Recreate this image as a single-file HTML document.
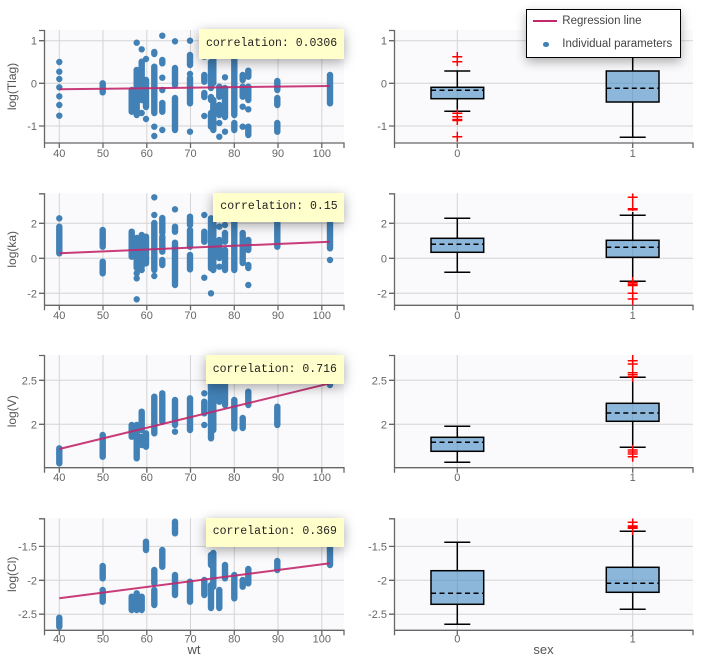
<!DOCTYPE html>
<html><head><meta charset="utf-8">
<style>
body{margin:0;width:708px;height:660px;overflow:hidden;background:#fff;position:relative;font-family:"Liberation Sans",sans-serif}
svg{position:absolute;left:0;top:0}
.t{font-family:"Liberation Sans",sans-serif;font-size:11px;fill:#666}
.ti{font-family:"Liberation Sans",sans-serif;font-size:12px;fill:#555}
.xt{font-family:"Liberation Sans",sans-serif;font-size:13px;fill:#555}
.bg{fill:#fafafc}
.g{stroke:#d4d4d4;stroke-width:1;fill:none}
.ax{stroke:#666;stroke-width:1.3;fill:none}
.dots{stroke:#4281b6;stroke-width:6.4;stroke-linecap:round;fill:none}
.reg{stroke:#c3286b;stroke-width:2;opacity:.9}
.bx{fill:rgba(66,139,195,.6);stroke:#000;stroke-width:1.5}
.wk{stroke:#000;stroke-width:1.5;fill:none}
.md{stroke:#000;stroke-width:1.5;stroke-dasharray:5 3.5}
.o{stroke:#f00;stroke-width:1.5;fill:none}
.corr{position:absolute;background:#ffffcc;box-shadow:0 3px 12px rgba(0,0,0,.35);font-family:"Liberation Mono",monospace;font-size:11.5px;color:#222;padding-left:7px;box-sizing:border-box;white-space:nowrap}
.leg{position:absolute;left:526px;top:9px;width:155px;height:49px;border:1px solid #000;background:#fff;box-sizing:border-box;box-shadow:0 4px 10px rgba(0,0,0,.3)}
.leg span{position:absolute;font-size:11.5px;line-height:14px;color:#444;white-space:nowrap}
</style></head><body>
<svg width="708" height="660" viewBox="0 0 708 660">
<!-- ROW 1 -->
<rect class="bg" x="44.3" y="30" width="299.7" height="113"/>
<rect class="bg" x="394.3" y="30" width="298.7" height="113"/>
<path class="g" d="M44.3 40.7H344M44.3 83.3H344M44.3 126H344M59.3 30V143M103 30V143M146.8 30V143M190.5 30V143M234.3 30V143M278 30V143M321.8 30V143M394.3 40.7H693M394.3 83.3H693M394.3 126H693M457.3 30V143M632.7 30V143"/>
<path class="ax" d="M39 30.5H44.5V143H344V148M44.5 143V148M39 40.7H44.5M39 83.3H44.5M39 126H44.5M59.3 143V148M103 143V148M146.8 143V148M190.5 143V148M234.3 143V148M278 143V148M321.8 143V148"/>
<path class="ax" d="M389 30.5H394.5V143H693V148M394.5 143V148M389 40.7H394.5M389 83.3H394.5M389 126H394.5M457.3 143V148M632.7 143V148"/>
<g class="t" text-anchor="end"><text x="37" y="44.7">1</text><text x="37" y="87.3">0</text><text x="37" y="130">-1</text>
<text x="387" y="44.7">1</text><text x="387" y="87.3">0</text><text x="387" y="130">-1</text></g>
<g class="t" text-anchor="middle"><text x="59.3" y="157">40</text><text x="103" y="157">50</text><text x="146.8" y="157">60</text><text x="190.5" y="157">70</text><text x="234.3" y="157">80</text><text x="278" y="157">90</text><text x="321.8" y="157">100</text><text x="457.3" y="157">0</text><text x="632.7" y="157">1</text></g>
<text class="ti" text-anchor="middle" transform="translate(16,86.5) rotate(-90)">log(Tlag)</text>
<path class="dots" d="M59.3 62v.01M59.3 71.7v.01M59.3 79v.01M59.3 87.3v.01M59.3 96.3v.01M59.3 105v.01M59.3 115.7v.01M102.7 83.3V92.3M131.7 90V111.7M136.7 70V115M136.7 42.7v.01M141.7 61.7V100M141.7 49.3v.01M141.7 113v.01M146 80V107M146 59v.01M146 119v.01M154.3 52V54M154.3 66.7V113M154.3 126.7v.01M154.3 136v.01M162.3 35.7v.01M162.3 77.7v.01M162.3 90v.01M162.3 130v.01M162.3 60V63.3M162.3 103V111.7M175 41.3v.01M175 68V85M175 98V130M190 40.7v.01M190 74v.01M190 131.7v.01M190 55V65M190 78V103.3M204.3 56.7v.01M204.3 116v.01M204.3 75V81.7M204.3 93V97M211 62V88M211 97V100M211 113V126.7M213.3 57V83M213.3 100V130M219.3 86.7V96.7M219.3 105V115M219.3 123v.01M219.3 136.7v.01M225 77.3v.01M225 131.7v.01M225 88V117M234.3 50V115M234.3 123V130M242.7 75V80M242.7 86.7V96.7M242.7 106.7v.01M242.7 126.7v.01M248.3 70.7V76.7M248.3 86.7V100M248.3 126.7V135M248.3 109.3v.01M277.3 81V90M277.3 98V105M277.3 123V131.7M330 75V103.3"/>
<line class="reg" x1="59.3" y1="89.3" x2="330" y2="86"/>
<!-- box row1 -->
<path class="wk" d="M457.3 71V87.3M457.3 98.7V111.3M444.3 71H470.3M444.3 111.3H470.3M632.7 40V71M632.7 102V137.3M619.7 137.3H645.7M619.7 40H645.7"/>
<rect class="bx" x="431" y="87.3" width="52.7" height="11.4"/>
<rect class="bx" x="606.3" y="71" width="52.7" height="31"/>
<path class="md" d="M431 90.3H483.7M606.3 88.3H659"/>
<path class="o" d="M452.3 56.7h10M452.3 61.7h10M457.3 52V66M452.3 113.3h10M452.3 116.7h10M452.3 119.5h10M452.3 120.5h10M457.3 109V125M452.3 136.7h10M457.3 131.7v10"/>

<!-- ROW 2 -->
<rect class="bg" x="44.3" y="193.3" width="299.7" height="112"/>
<rect class="bg" x="394.3" y="193.3" width="298.7" height="112"/>
<path class="g" d="M44.3 223.3H344M44.3 258.3H344M44.3 293.3H344M59.3 193.3V305.3M103 193.3V305.3M146.8 193.3V305.3M190.5 193.3V305.3M234.3 193.3V305.3M278 193.3V305.3M321.8 193.3V305.3M394.3 223.3H693M394.3 258.3H693M394.3 293.3H693M457.3 193.3V305.3M632.7 193.3V305.3"/>
<path class="ax" d="M39 193.8H44.5V305.3H344V310.3M44.5 305.3V310.3M39 223.3H44.5M39 258.3H44.5M39 293.3H44.5M59.3 305.3V310.3M103 305.3V310.3M146.8 305.3V310.3M190.5 305.3V310.3M234.3 305.3V310.3M278 305.3V310.3M321.8 305.3V310.3"/>
<path class="ax" d="M389 193.8H394.5V305.3H693V310.3M394.5 305.3V310.3M389 223.3H394.5M389 258.3H394.5M389 293.3H394.5M457.3 305.3V310.3M632.7 305.3V310.3"/>
<g class="t" text-anchor="end"><text x="37" y="227.3">2</text><text x="37" y="262.3">0</text><text x="37" y="297.3">-2</text>
<text x="387" y="227.3">2</text><text x="387" y="262.3">0</text><text x="387" y="297.3">-2</text></g>
<g class="t" text-anchor="middle"><text x="59.3" y="318.8">40</text><text x="103" y="318.8">50</text><text x="146.8" y="318.8">60</text><text x="190.5" y="318.8">70</text><text x="234.3" y="318.8">80</text><text x="278" y="318.8">90</text><text x="321.8" y="318.8">100</text><text x="457.3" y="318.8">0</text><text x="632.7" y="318.8">1</text></g>
<text class="ti" text-anchor="middle" transform="translate(16,249.3) rotate(-90)">log(ka)</text>
<path class="dots" d="M59.3 218.3v.01M59.3 226.7V253.3M102.7 230V246.7M102.7 261.7V273.3M131.7 231.7V256.7M136.7 238V268M136.7 273.3v.01M136.7 278.3v.01M136.7 299.3v.01M141.7 235V266.7M141.7 270v.01M146 236.7V263.3M154.3 197.3v.01M154.3 215v.01M154.3 223V270M154.3 276v.01M162.3 218V233M162.3 236.7V251.7M162.3 260V265M175 209.3v.01M175 226.7V231.7M175 242.7V285M190 216.7V225M190 230V246.7M190 255V269.3M204.3 215v.01M204.3 231.7V241.7M204.3 277.7v.01M211 218.3V268.3M211 293.3v.01M213.3 223V270M219.3 226.7v.01M219.3 240V258M219.3 266.7v.01M225 225v.01M225 233V241.7M225 250V270M234.3 213V270M242.7 233V263M248.3 240V250M248.3 265V268M248.3 285v.01M277.3 213V246.7M330 221.7V248.3M330 260v.01"/>
<line class="reg" x1="59.3" y1="253.3" x2="330" y2="241.7"/>
<path class="wk" d="M457.3 218.3V238.3M457.3 252.3V272.3M444.3 218.3H470.3M444.3 272.3H470.3M632.7 212V240.3M632.7 257.3V281.3M619.7 215.3H645.7M619.7 281.3H645.7"/>
<rect class="bx" x="431" y="238.3" width="52.7" height="14"/>
<rect class="bx" x="606.3" y="240.3" width="52.7" height="17"/>
<path class="md" d="M431 244.3H483.7M606.3 247.3H659"/>
<path class="o" d="M632.7 193.5V211M627.7 197.3h10M627.7 208.7h10M627.7 209.7h10M632.7 277V305M627.7 282.3h10M627.7 284h10M627.7 285.5h10M627.7 293.3h10M627.7 299h10"/>

<!-- ROW 3 -->
<rect class="bg" x="44.3" y="355" width="299.7" height="112.7"/>
<rect class="bg" x="394.3" y="355" width="298.7" height="112.7"/>
<path class="g" d="M44.3 380.3H344M44.3 424.3H344M59.3 355V467.7M103 355V467.7M146.8 355V467.7M190.5 355V467.7M234.3 355V467.7M278 355V467.7M321.8 355V467.7M394.3 380.3H693M394.3 424.3H693M457.3 355V467.7M632.7 355V467.7"/>
<path class="ax" d="M39 355.5H44.5V467.7H344V472.7M44.5 467.7V472.7M39 380.3H44.5M39 424.3H44.5M59.3 467.7V472.7M103 467.7V472.7M146.8 467.7V472.7M190.5 467.7V472.7M234.3 467.7V472.7M278 467.7V472.7M321.8 467.7V472.7"/>
<path class="ax" d="M389 355.5H394.5V467.7H693V472.7M394.5 467.7V472.7M389 380.3H394.5M389 424.3H394.5M457.3 467.7V472.7M632.7 467.7V472.7"/>
<g class="t" text-anchor="end"><text x="37" y="384.3">2.5</text><text x="37" y="428.3">2</text>
<text x="387" y="384.3">2.5</text><text x="387" y="428.3">2</text></g>
<g class="t" text-anchor="middle"><text x="59.3" y="481.2">40</text><text x="103" y="481.2">50</text><text x="146.8" y="481.2">60</text><text x="190.5" y="481.2">70</text><text x="234.3" y="481.2">80</text><text x="278" y="481.2">90</text><text x="321.8" y="481.2">100</text><text x="457.3" y="481.2">0</text><text x="632.7" y="481.2">1</text></g>
<text class="ti" text-anchor="middle" transform="translate(16,411.3) rotate(-90)">log(V)</text>
<path class="dots" d="M59.3 448.3V463.3M102.7 435V456.7M131.7 425V436.7M136.7 425V458.3M141.7 411.7V430M141.7 436.7V445M146 433.3V446.7M154.3 396.7V433.3M162.3 393.3V421.7M175 400V425M175 431.7v.01M190 398.3V430M204.3 393.3v.01M204.3 401.7V413.3M204.3 425v.01M211 383V438.3M213.3 383V430M219.3 383V401.7M225 383V405M234.3 400V428.3M242.7 418V428M248.3 391.7V405M277.3 406.7V425M330 381.7V385"/>
<line class="reg" x1="59.3" y1="449" x2="330" y2="383.3"/>
<path class="wk" d="M457.3 426.3V437.3M457.3 451.3V462.3M444.3 426.3H470.3M444.3 462.3H470.3M632.7 377.3V403.3M632.7 421.3V447.3M619.7 377.3H645.7M619.7 447.3H645.7"/>
<rect class="bx" x="431" y="437.3" width="52.7" height="14"/>
<rect class="bx" x="606.3" y="403.3" width="52.7" height="18"/>
<path class="md" d="M431 442.3H483.7M606.3 413H659"/>
<path class="o" d="M632.7 355V381.7M627.7 360.7h10M627.7 364h10M627.7 372.7h10M627.7 374.7h10M627.7 376.7h10M632.7 445V461.7M627.7 450h10M627.7 452h10M627.7 454h10M627.7 456.7h10"/>

<!-- ROW 4 -->
<rect class="bg" x="44.3" y="518.3" width="299.7" height="112"/>
<rect class="bg" x="394.3" y="518.3" width="298.7" height="112"/>
<path class="g" d="M44.3 546.4H344M44.3 580.3H344M44.3 614.2H344M59.3 518.3V630.3M103 518.3V630.3M146.8 518.3V630.3M190.5 518.3V630.3M234.3 518.3V630.3M278 518.3V630.3M321.8 518.3V630.3M394.3 546.4H693M394.3 580.3H693M394.3 614.2H693M457.3 518.3V630.3M632.7 518.3V630.3"/>
<path class="ax" d="M39 518.8H44.5V630.3H344V635.3M44.5 630.3V635.3M39 546.4H44.5M39 580.3H44.5M39 614.2H44.5M59.3 630.3V635.3M103 630.3V635.3M146.8 630.3V635.3M190.5 630.3V635.3M234.3 630.3V635.3M278 630.3V635.3M321.8 630.3V635.3"/>
<path class="ax" d="M389 518.8H394.5V630.3H693V635.3M394.5 630.3V635.3M389 546.4H394.5M389 580.3H394.5M389 614.2H394.5M457.3 630.3V635.3M632.7 630.3V635.3"/>
<g class="t" text-anchor="end"><text x="37" y="550.4">-1.5</text><text x="37" y="584.3">-2</text><text x="37" y="618.2">-2.5</text>
<text x="387" y="550.4">-1.5</text><text x="387" y="584.3">-2</text><text x="387" y="618.2">-2.5</text></g>
<g class="t" text-anchor="middle"><text x="59.3" y="642.5">40</text><text x="103" y="642.5">50</text><text x="146.8" y="642.5">60</text><text x="190.5" y="642.5">70</text><text x="234.3" y="642.5">80</text><text x="278" y="642.5">90</text><text x="321.8" y="642.5">100</text><text x="457.3" y="642.5">0</text><text x="632.7" y="642.5">1</text></g>
<text class="ti" text-anchor="middle" transform="translate(16,574.3) rotate(-90)">log(Cl)</text>
<path class="dots" d="M59.3 617.7V626.7M102.7 566V578.3M102.7 590V601.7M131.7 596.7V610M136.7 593.3V610M141.7 596.7V610M146 541.7V550M154.3 570V583.3M154.3 590V605M162.3 550V566.7M175 521.7V533.3M175 575V595M190 581.7V601.7M204.3 580V595M211 555V565M211 585V608M213.3 553V586.7M219.3 590V608M225 565V578.3M234.3 575V598.3M242.7 580V586.7M248.3 569V583.3M277.3 561V570M330 545V565"/>
<line class="reg" x1="59.3" y1="598.3" x2="330" y2="563.3"/>
<path class="wk" d="M457.3 542.3V570.7M457.3 604.3V624.3M444.3 542.3H470.3M444.3 624.3H470.3M632.7 531.3V567.3M632.7 592.3V609.3M619.7 531.3H645.7M619.7 609.3H645.7"/>
<rect class="bx" x="431" y="570.7" width="52.7" height="33.6"/>
<rect class="bx" x="606.3" y="567.3" width="52.7" height="25"/>
<path class="md" d="M431 593.3H483.7M606.3 583.3H659"/>
<path class="o" d="M632.7 518.5V535M627.7 522.3h10M627.7 526h10M627.7 527h10M627.7 528.3h10"/>

<text class="xt" x="194" y="654" text-anchor="middle">wt</text>
<text class="xt" x="543.5" y="654" text-anchor="middle">sex</text>
</svg>

<div class="corr" style="left:199px;top:29.3px;width:145px;height:29.7px;line-height:29.7px">correlation: 0.0306</div>
<div class="corr" style="left:213.3px;top:193.3px;width:130.7px;height:28.4px;line-height:28.4px">correlation: 0.15</div>
<div class="corr" style="left:205.7px;top:355px;width:138.3px;height:29px;line-height:29px">correlation: 0.716</div>
<div class="corr" style="left:205.7px;top:518.3px;width:138.3px;height:28.4px;line-height:28.4px">correlation: 0.369</div>

<div class="leg">
<div style="position:absolute;left:5.5px;top:10px;width:24.5px;height:2px;background:#c3286b"></div>
<span style="left:35.3px;top:3.7px">Regression line</span>
<div style="position:absolute;left:16.3px;top:31.6px;width:5.4px;height:5.4px;border-radius:50%;background:#4281b6"></div>
<span style="left:35.3px;top:27.3px">Individual parameters</span>
</div>
</body></html>
